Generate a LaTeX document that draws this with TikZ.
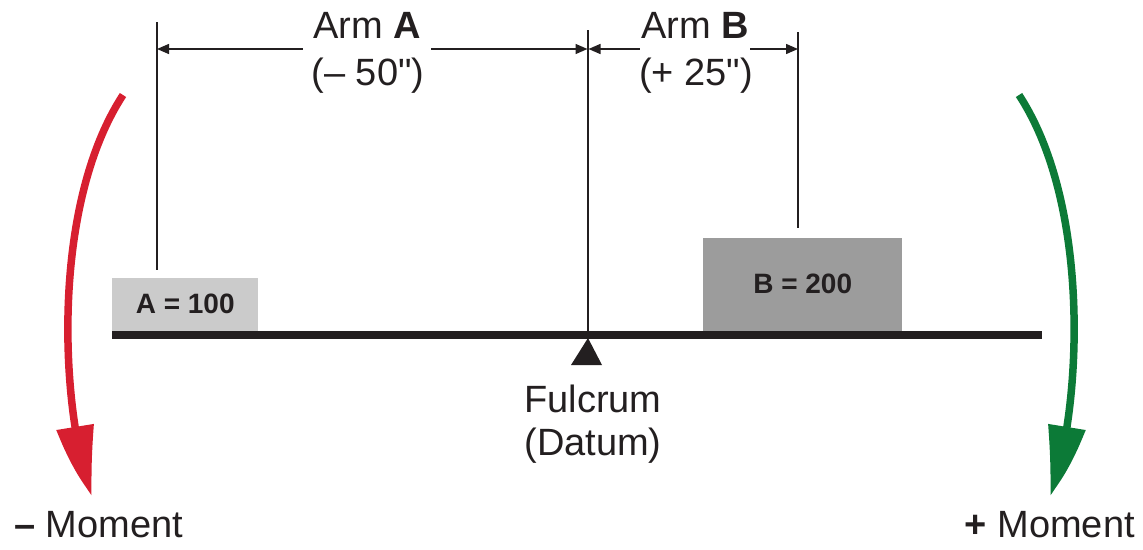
\documentclass[tikz,border=0pt]{standalone}
\usepackage{fontspec}
\setmainfont{Liberation Sans}
\usetikzlibrary{arrows.meta,bending}
\definecolor{ink}{HTML}{231F20}
\definecolor{redarrow}{HTML}{D71F30}
\definecolor{greenarrow}{HTML}{0C7A37}
\definecolor{lightbox}{HTML}{CBCBCB}
\definecolor{darkbox}{HTML}{9C9C9C}
% straight inch mark, without the TeX quote mapping
\newcommand{\inch}{{\addfontfeature{Ligatures=TeXOff}"}}

\begin{document}
\begin{tikzpicture}[x=1pt,y=-1pt,
  lbl/.style={font=\fontsize{38}{44}\selectfont, text=ink, inner ysep=0pt, anchor=base},
  weight/.style={font=\fontsize{28}{30}\selectfont\bfseries, text=ink, inner sep=0pt, anchor=south west},
  guide/.style={draw=ink, line width=1.4pt},
  dim/.style={draw=ink, line width=1.4pt, -{Triangle[length=12pt,width=10pt]}},
  moment/.style={line width=7.5pt, -{Triangle[length=57pt,width=37pt,bend]}},
]
\useasboundingbox (0,0) rectangle (1143,549);

% weights resting on the beam
\node[weight, fill=lightbox, minimum width=146pt, minimum height=53pt] (wA) at (112,331) {A = 100};
\node[weight, fill=darkbox, minimum width=199pt, minimum height=93pt] (wB) at (703,331) {B = 200};

% beam and fulcrum
\coordinate (beamL) at (112,335);
\coordinate (beamR) at (1042,335);
\draw[ink, line width=8pt] (beamL) -- (beamR);
\coordinate (fulcrum) at (588,338);
\fill[ink] (fulcrum) -- (602,365) -- (571,365) -- cycle;
\node[lbl] (fulc) at (593,412) {Fulcrum};
\node[lbl] (datum) at (593,455) {(Datum)};

% reference lines
\coordinate (tickA) at (157,22);
\coordinate (tickD) at (588,30);
\coordinate (tickB) at (798,32);
\draw[guide] (tickA) -- (157,270);
\draw[guide] (tickD) -- (588,331);
\draw[guide] (tickB) -- (798,228);

% arm labels
\node[lbl, inner xsep=10pt] (armA) at (367,38) {Arm \textbf{A}};
\node[lbl] (armAv) at (368,85) {(– 50\inch)};
\node[lbl, inner xsep=1pt] (armB) at (695,38) {Arm \textbf{B}};
\node[lbl] (armBv) at (696,85) {(+ 25\inch)};

% dimension arrows
\coordinate (dimy) at (0,49);
\draw[dim] (armA.west |- dimy) -- (tickA |- dimy);
\draw[dim] (armA.east |- dimy) -- ([xshift=-0.5pt]tickD |- dimy);
\draw[dim] (armB.west |- dimy) -- ([xshift=0.5pt]tickD |- dimy);
\draw[dim] (armB.east |- dimy) -- (tickB |- dimy);

% moment arrows
\coordinate (negS) at (123,95);
\coordinate (negE) at (92,495);
\coordinate (posS) at (1019,95);
\coordinate (posE) at (1050,495);
\draw[moment, redarrow] (negS) .. controls (48,210) and (62,420) .. (negE);
\draw[moment, greenarrow] (posS) .. controls (1094,210) and (1080,420) .. (posE);
\node[lbl, anchor=base west, inner sep=0pt] (negM) at (14,537) {\textbf{–} Moment};
\node[lbl, anchor=base east, inner sep=0pt] (posM) at (1135,537) {\textbf{+} Moment};
\end{tikzpicture}
\end{document}
